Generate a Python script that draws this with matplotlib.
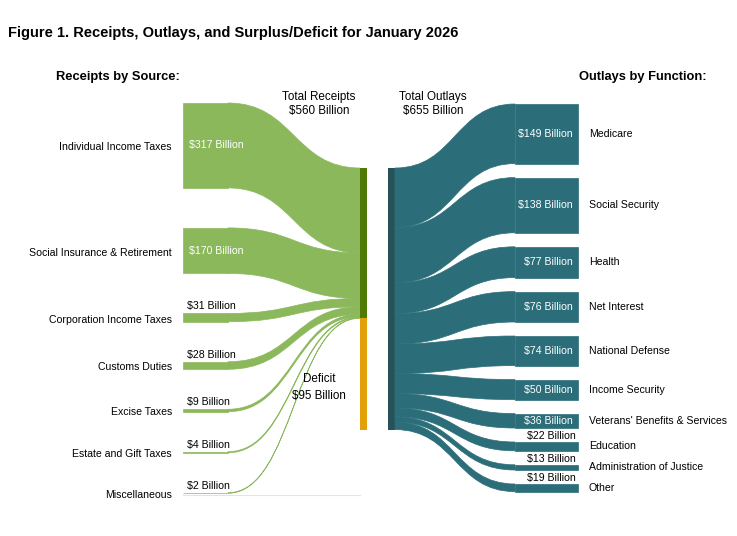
import numpy as np
import matplotlib.pyplot as plt
from matplotlib.path import Path
from matplotlib.patches import PathPatch, Rectangle

plt.rcParams['font.family'] = ['Liberation Sans', 'DejaVu Sans']

# data (billions of dollars)
receipt_sources = ["Individual Income Taxes", "Social Insurance & Retirement",
                   "Corporation Income Taxes", "Customs Duties", "Excise Taxes",
                   "Estate and Gift Taxes", "Miscellaneous"]
receipt_values = [317, 170, 31, 28, 9, 4, 2]
outlay_functions = ["Medicare", "Social Security", "Health", "Net Interest",
                    "National Defense", "Income Security",
                    "Veterans' Benefits & Services", "Education",
                    "Administration of Justice", "Other"]
outlay_values = [149, 138, 77, 76, 74, 50, 36, 22, 13, 19]
total_receipts = 560
total_outlays = 655
deficit = 95

# colours
c_rec = "#8cb85c"
c_rec_bar = "#4e7a05"
c_def = "#e2a109"
c_out = "#2b6e79"
c_out_bar = "#26525a"

# layout (pixels)
W, H = 737, 536
k_r = 150 / total_receipts   # px per billion, receipts
k_o = 0.4                    # px per billion, outlays
left_top, left_gap = 103, 40
right_top, right_gap = 104, 14
bar_top = 168
lx0, lx1 = 183, 228          # left node
cx0, cx1 = 360, 367          # receipts/deficit bar
ox0, ox1 = 388, 395          # outlays bar
rx0, rx1 = 515, 578          # right node


def band(ax, x0, y0t, y0b, x1, y1t, y1b, color):
    xm = (x0 + x1) / 2
    verts = [(x0, y0t), (xm, y0t), (xm, y1t), (x1, y1t),
             (x1, y1b), (xm, y1b), (xm, y0b), (x0, y0b), (x0, y0t)]
    codes = [Path.MOVETO, Path.CURVE4, Path.CURVE4, Path.CURVE4,
             Path.LINETO, Path.CURVE4, Path.CURVE4, Path.CURVE4, Path.CLOSEPOLY]
    ax.add_patch(PathPatch(Path(verts, codes), facecolor=color,
                           edgecolor=color, linewidth=0.5))


fig = plt.figure(figsize=(W / 100, H / 100), dpi=100)
ax = fig.add_axes([0, 0, 1, 1])
ax.set_xlim(0, W)
ax.set_ylim(H, 0)
ax.axis("off")

fs = 7.6
fig.text(8 / W, 1 - 33 / H, "Figure 1. Receipts, Outlays, and Surplus/Deficit for January 2026",
         fontsize=10.5, fontweight="bold", va="center", ha="left")
ax.text(118, 77, "Receipts by Source:", fontsize=9.3, fontweight="bold", ha="center", va="center")
ax.text(643, 77, "Outlays by Function:", fontsize=9.3, fontweight="bold", ha="center", va="center")
ax.text(319, 104, "Total Receipts\n$560 Billion", fontsize=8.4, ha="center", va="center",
        linespacing=1.3)
ax.text(433, 104, "Total Outlays\n$655 Billion", fontsize=8.4, ha="center", va="center",
        linespacing=1.3)

# receipts side
y_node = left_top
y_bar = bar_top
for name, v in zip(receipt_sources, receipt_values):
    h = v * k_r
    ax.add_patch(Rectangle((lx0, y_node), lx1 - lx0, h, facecolor=c_rec,
                           edgecolor=c_rec, linewidth=0.5))
    band(ax, lx1, y_node, y_node + h, cx0, y_bar, y_bar + h, c_rec)
    yc = y_node + h / 2
    ax.text(172, yc + 2, name, fontsize=fs, ha="right", va="center")
    label = f"${v} Billion"
    if h > 20:
        ax.text(189, yc, label, fontsize=fs, ha="left", va="center", color="white")
    else:
        ax.text(187, y_node - 2, label, fontsize=fs, ha="left", va="bottom")
    y_node += h + left_gap
    y_bar += h
left_bottom = y_node - left_gap

rec_h = total_receipts * k_r
out_h = total_outlays * k_o
ax.add_patch(Rectangle((cx0, bar_top), cx1 - cx0, rec_h, facecolor=c_rec_bar, edgecolor="none"))
ax.add_patch(Rectangle((cx0, bar_top + rec_h), cx1 - cx0, out_h - rec_h,
                       facecolor=c_def, edgecolor="none"))
ax.plot([lx0, cx0], [left_bottom + 1.5] * 2, color="#f1e2c4", lw=0.8)
ax.text(319, bar_top + rec_h + (out_h - rec_h) * 0.62, "Deficit\n$" + str(deficit) + " Billion",
        fontsize=8.4, ha="center", va="center", linespacing=1.5)

# outlays side
ax.add_patch(Rectangle((ox0, bar_top), ox1 - ox0, out_h, facecolor=c_out_bar, edgecolor="none"))
y_node = right_top
y_bar = bar_top
for name, v in zip(outlay_functions, outlay_values):
    h = v * k_o
    band(ax, ox1, y_bar, y_bar + h, rx0, y_node, y_node + h, c_out)
    ax.add_patch(Rectangle((rx0, y_node), rx1 - rx0, h, facecolor=c_out,
                           edgecolor=c_out, linewidth=0.5))
    yc = y_node + h / 2
    ax.text(589, yc, name, fontsize=fs, ha="left", va="center")
    label = f"${v} Billion"
    if h > 12:
        ax.text(573, yc, label, fontsize=fs, ha="right", va="center", color="white")
    else:
        ax.text(576, y_node - 1, label, fontsize=fs, ha="right", va="bottom")
    y_node += h + right_gap
    y_bar += h

fig.savefig("out.png", dpi=100)
